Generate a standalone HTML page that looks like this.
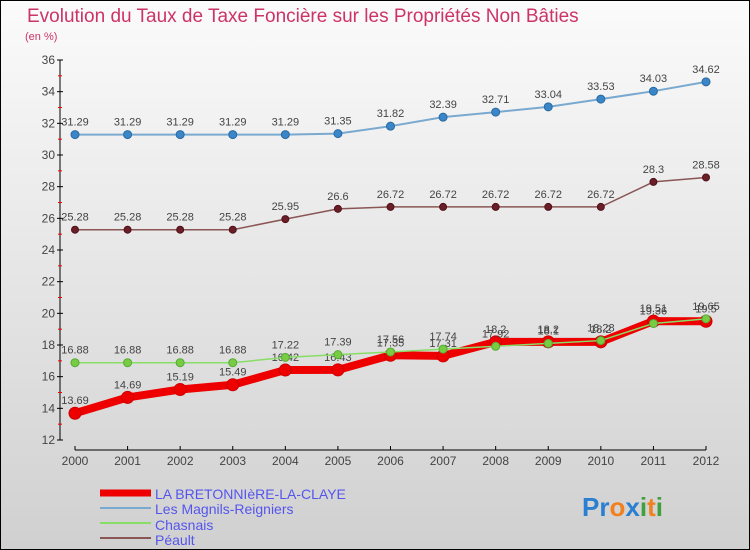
<!DOCTYPE html>
<html><head><meta charset="utf-8"><style>
body{margin:0;width:750px;height:550px;overflow:hidden}
svg{display:block;font-family:"Liberation Sans",sans-serif}
</style></head><body>
<svg width="750" height="550">
<defs><linearGradient id="bg" x1="0" y1="0" x2="0" y2="1"><stop offset="0" stop-color="#fbfbfb"/><stop offset="1" stop-color="#d0d0d0"/></linearGradient></defs>
<rect x="0.5" y="0.5" width="749" height="549" fill="url(#bg)" stroke="#000"/>
<text x="27" y="22" font-size="19" fill="#cc3366">Evolution du Taux de Taxe Foncière sur les Propriétés Non Bâties</text>
<text x="25" y="40" font-size="11" fill="#cc3366">(en %)</text>
<g id="axes"></g><g id="series"></g>
<g font-size="14" fill="#5555ee">
<line x1="100" y1="493" x2="151" y2="493" stroke="#e00" stroke-width="7"/>
<text x="155" y="499">LA BRETONNIèRE-LA-CLAYE</text>
<line x1="100" y1="508" x2="151" y2="508" stroke="#7aa9d0" stroke-width="2"/>
<text x="155" y="514">Les Magnils-Reigniers</text>
<line x1="100" y1="523" x2="151" y2="523" stroke="#88dd66" stroke-width="2"/>
<text x="155" y="530">Chasnais</text>
<line x1="100" y1="538" x2="151" y2="538" stroke="#8a5555" stroke-width="2"/>
<text x="155" y="545">Péault</text>
</g>
<text x="582" y="516" font-size="26" font-weight="bold"><tspan fill="#2a7fd0">Pr</tspan><tspan fill="#f08020">o</tspan><tspan fill="#2a7fd0">x</tspan><tspan fill="#40a040">i</tspan><tspan fill="#f08020">t</tspan><tspan fill="#40a040">i</tspan></text>
</svg>
<script>
const years=[2000,2001,2002,2003,2004,2005,2006,2007,2008,2009,2010,2011,2012];
const yTicks=[12,14,16,18,20,22,24,26,28,30,32,34,36];
const magnils=[31.29,31.29,31.29,31.29,31.29,31.35,31.82,32.39,32.71,33.04,33.53,34.03,34.62];
const peault=[25.28,25.28,25.28,25.28,25.95,26.6,26.72,26.72,26.72,26.72,26.72,28.3,28.58];
const chasnais=[16.88,16.88,16.88,16.88,17.22,17.39,17.56,17.74,17.92,18.1,18.28,19.36,19.65];
const bretonniere=[13.69,14.69,15.19,15.49,16.42,16.43,17.35,17.31,18.2,18.2,18.2,19.51,19.5];
const NS="http://www.w3.org/2000/svg";
const xs=i=>75+i*(631/12);
const ys=v=>440-(v-12)*(380/24);
function mk(t,a,p){const e=document.createElementNS(NS,t);for(const k in a)e.setAttribute(k,a[k]);p.appendChild(e);return e;}
const ax=document.getElementById('axes');
let l=mk('line',{x1:60,y1:60,x2:60,y2:440,stroke:'#000'},ax);


yTicks.forEach(v=>{
 mk('line',{x1:57,y1:ys(v),x2:63,y2:ys(v),stroke:'#000'},ax);
 if(v<36)mk('line',{x1:58,y1:ys(v+1),x2:62,y2:ys(v+1),stroke:'#e00'},ax);
 const t=mk('text',{x:55,y:ys(v)+4,'font-size':12,fill:'#444','text-anchor':'end'},ax);t.textContent=v;
 
 
});
l=mk('line',{x1:75,y1:450,x2:706,y2:450,stroke:'#000'},ax);


years.forEach((y,i)=>{
 mk('line',{x1:xs(i),y1:446,x2:xs(i),y2:450,stroke:'#000'},ax);
 const t=mk('text',{x:xs(i),y:465,'font-size':12,fill:'#444','text-anchor':'middle'},ax);t.textContent=y;
 
 
});
const sg=document.getElementById('series');
function series(name,data,color,w,r,dot,dotStroke){
 const g=mk('g',{},sg);
 
 
 const p=mk('polyline',{points:data.map((v,i)=>xs(i)+','+ys(v)).join(' '),fill:'none',stroke:color,'stroke-width':w},g);
 
 
 data.forEach((v,i)=>{
  const c=mk('circle',{cx:xs(i),cy:ys(v),r:r,fill:dot,stroke:dotStroke,'stroke-width':1},g);
  
  
  const t=mk('text',{x:xs(i),y:ys(v)-9,'font-size':11,fill:'#444','text-anchor':'middle'},g);t.textContent=v;
  
  
 });
}
series('magnils',magnils,'#7aa9d0',2,4,'#3a86c8','#2a6aa0');
series('peault',peault,'#8a5555',1.5,3.5,'#6a1e28','#501018');
series('bretonniere',bretonniere,'#ee0000',8,6,'#ee0000','#c00');
series('chasnais',chasnais,'#88dd66',1.5,4,'#77cc44','#55aa33');
</script>
</body></html>
